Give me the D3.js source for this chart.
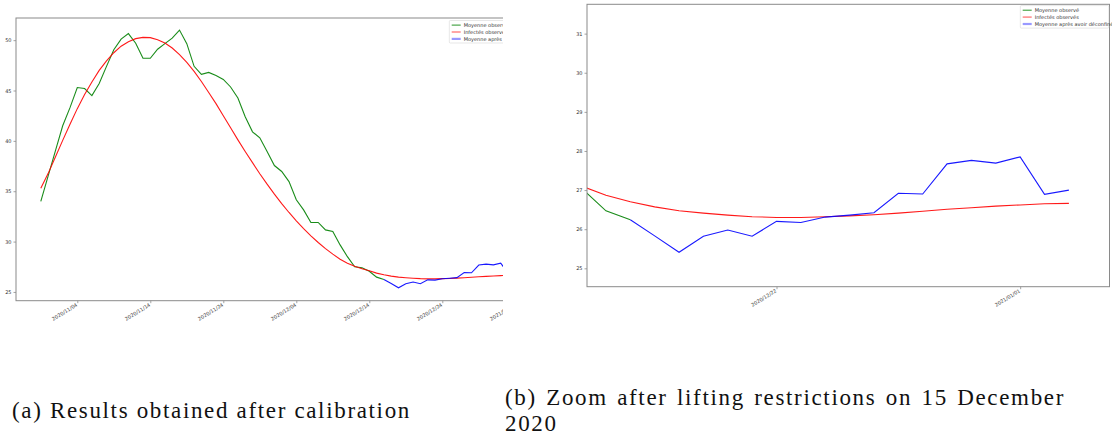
<!DOCTYPE html>
<html>
<head>
<meta charset="utf-8">
<script src="https://cdn.jsdelivr.net/npm/d3@7"></script>
<style>
  body { margin: 0; background: #fff; }
  svg { display: block; }
  .tick text { font-family: "DejaVu Sans", sans-serif; font-size: 5px; fill: #333; }
  .tick line { stroke: #666; stroke-width: 0.6; }
  .caption { font-family: "Liberation Serif", "Times New Roman", "DejaVu Serif", serif; font-size: 23px; fill: #111; }
  .legend text { font-family: "DejaVu Sans", sans-serif; font-size: 5px; fill: #333; }
</style>
</head>
<body>
<svg id="chart" width="1112" height="439"></svg>
<script>
  // daily series, starting 2020/10/30
  const startDate = Date.UTC(2020, 9, 30)

  // "Moyenne observé" : 2020/10/30 -> 2020/12/16
  const observed = [
    34.0, 36.5,
    39.0, 41.5, 43.3, 45.3, 45.2, 44.5, 45.7, 47.4, 49.05, 50.1,
    50.65, 49.7, 48.2, 48.2, 49.1, 49.65, 50.2, 51.0, 49.65, 47.4,
    46.6, 46.8, 46.5, 46.1, 45.35, 44.25, 42.4, 40.9, 40.3, 38.95,
    37.55, 36.96, 35.96, 34.15, 33.15, 31.9, 31.9, 31.16, 31.0, 29.67,
    28.5, 27.5, 27.4, 27.05, 26.47, 26.24
  ]

  // "Infectés observés" (model) : 2020/10/30 -> 2021/01/03
  const model = [
    35.3, 36.75,
    38.4, 40.05, 41.65, 43.2, 44.6, 45.85, 47.0, 47.95, 48.75, 49.4,
    49.85, 50.15, 50.28, 50.25, 50.05, 49.72, 49.22, 48.56, 47.8, 46.9,
    45.9, 44.8, 43.7, 42.5, 41.3, 40.1, 38.95, 37.84, 36.74, 35.7,
    34.71, 33.77, 32.89, 32.06, 31.29, 30.57, 29.91, 29.3, 28.75, 28.25,
    27.85, 27.55, 27.3, 27.1, 26.87, 26.7, 26.57, 26.47, 26.41, 26.36,
    26.32, 26.3, 26.3, 26.32, 26.34, 26.37, 26.41, 26.46, 26.51, 26.55,
    26.59, 26.62, 26.65, 26.66
  ]

  // "Moyenne après avoir déconfiné" : 2020/12/16 -> 2021/01/03
  const afterStart = Date.UTC(2020, 11, 16)
  const afterLifting = [
    26.24, 25.83, 25.41, 25.82, 25.98, 25.82, 26.2, 26.17, 26.31, 26.36,
    26.42, 26.92, 26.9, 27.67, 27.76, 27.69, 27.85, 26.89, 27.0
  ]

  const seriesNames = ['Moyenne observé', 'Infectés observés', 'Moyenne après avoir déconfiné']
  const seriesColors = ['green', 'red', 'blue']

  const leftXTicks = ['2020/11/04', '2020/11/14', '2020/11/24', '2020/12/04', '2020/12/14', '2020/12/24', '2021/01/03']
  const leftYTicks = [25, 30, 35, 40, 45, 50]
  const rightXTicks = ['2020/12/22', '2021/01/01']
  const rightYTicks = [25, 26, 27, 28, 29, 30, 31]

  const parse = d3.utcParse('%Y/%m/%d')
  const fmt = d3.utcFormat('%Y/%m/%d')
  const toPoints = (values, t0) => values.map((v, i) => ({ date: d3.utcDay.offset(new Date(t0), i), v }))

  const seriesData = [
    toPoints(observed, startDate),
    toPoints(model, startDate),
    toPoints(afterLifting, afterStart)
  ]

  const svg = d3.select('#chart')
  const defs = svg.append('defs')

  function drawPanel (id, { x, y, xTicks, yTicks, legendX, legendY, clipWidth }) {
    const [x0, x1] = x.range()
    const [y0, y1] = y.range()

    defs.append('clipPath').attr('id', id + '-fig')
      .append('rect').attr('x', 0).attr('y', 0).attr('width', clipWidth).attr('height', 360)
    defs.append('clipPath').attr('id', id + '-plot')
      .append('rect').attr('x', x0).attr('y', y1).attr('width', x1 - x0).attr('height', y0 - y1)

    const g = svg.append('g').attr('clip-path', `url(#${id}-fig)`)

    // axes
    const yAxis = g.append('g')
      .attr('transform', `translate(${x0},0)`)
      .call(d3.axisLeft(y).tickValues(yTicks).tickSize(2.5).tickPadding(2).tickFormat(d3.format('d')))
    yAxis.select('.domain').remove()

    const xAxis = g.append('g')
      .attr('transform', `translate(0,${y0})`)
      .call(d3.axisBottom(x).tickValues(xTicks.map(parse)).tickSize(2.5).tickFormat(fmt))
    xAxis.select('.domain').remove()
    xAxis.selectAll('.tick text')
      .attr('text-anchor', 'end')
      .attr('dy', null)
      .attr('y', 0)
      .attr('transform', 'translate(0,5) rotate(-32)')

    // lines
    const line = d3.line().x(d => x(d.date)).y(d => y(d.v))
    const lines = g.append('g').attr('clip-path', `url(#${id}-plot)`)
    lines.selectAll('path').data(seriesData).join('path')
      .attr('d', line)
      .attr('fill', 'none')
      .attr('stroke', (d, i) => seriesColors[i])
      .attr('stroke-opacity', 0.9)
      .attr('stroke-width', 1.1)

    // frame
    g.append('rect')
      .attr('x', x0).attr('y', y1)
      .attr('width', x1 - x0).attr('height', y0 - y1)
      .attr('fill', 'none').attr('stroke', '#8a8a8a').attr('stroke-width', 1)

    // legend
    const lg = g.append('g').attr('class', 'legend').attr('transform', `translate(${legendX},${legendY})`)
    lg.append('rect')
      .attr('width', 88.5).attr('height', 22.5).attr('rx', 1)
      .attr('fill', '#fff').attr('fill-opacity', 0.85)
      .attr('stroke', '#d6d6d6').attr('stroke-width', 0.6)
    const rows = lg.selectAll('g.row').data(seriesNames).join('g')
      .attr('class', 'row')
      .attr('transform', (d, i) => `translate(0,${4.6 + i * 6.9})`)
    rows.append('line')
      .attr('x1', 2.4).attr('x2', 11.4)
      .attr('stroke', (d, i) => seriesColors[i])
      .attr('stroke-opacity', (d, i) => [0.85, 0.5, 0.4][i])
      .attr('stroke-width', (d, i) => [1, 1.4, 2.2][i])
    rows.append('text')
      .attr('x', 14.4).attr('dy', '0.35em')
      .text(d => d)
  }

  // (a) full period
  drawPanel('a', {
    x: d3.scaleUtc()
      .domain([new Date(Date.UTC(2020, 9, 26, 14, 28)), new Date(Date.UTC(2021, 0, 5))])
      .range([16, 529.9]),
    y: d3.scaleLinear().domain([24.13, 52.2]).range([300.7, 18]),
    xTicks: leftXTicks,
    yTicks: leftYTicks,
    legendX: 449.3,
    legendY: 20.5,
    clipWidth: 503
  })

  // (b) zoom
  drawPanel('b', {
    x: d3.scaleUtc()
      .domain([new Date(Date.UTC(2020, 11, 14, 5, 20)), new Date(Date.UTC(2021, 0, 4, 16))])
      .range([587, 1109.5]),
    y: d3.scaleLinear().domain([24.53, 31.75]).range([286.7, 4.3]),
    xTicks: rightXTicks,
    yTicks: rightYTicks,
    legendX: 1020.3,
    legendY: 5.6,
    clipWidth: 1112
  })

  // captions: widen (a) with letter spacing, justify first line of (b) with word spacing
  const capA = svg.append('text').attr('class', 'caption')
    .attr('x', 12).attr('y', 418)
    .text('(a) Results obtained after calibration')
  const textA = capA.text()
  const letter = Math.max(0, (399 - capA.node().getComputedTextLength()) / textA.length)
  capA.attr('letter-spacing', letter)

  const capB = svg.append('text').attr('class', 'caption')
    .attr('letter-spacing', letter)
    .attr('x', 505).attr('y', 405)
    .text('(b) Zoom after lifting restrictions on 15 December')
  const wB = capB.node().getComputedTextLength()
  capB.attr('word-spacing', Math.max(0, (558 - wB) / 6))

  svg.append('text').attr('class', 'caption')
    .attr('letter-spacing', letter)
    .attr('x', 505).attr('y', 431)
    .text('2020')
</script>
</body>
</html>
